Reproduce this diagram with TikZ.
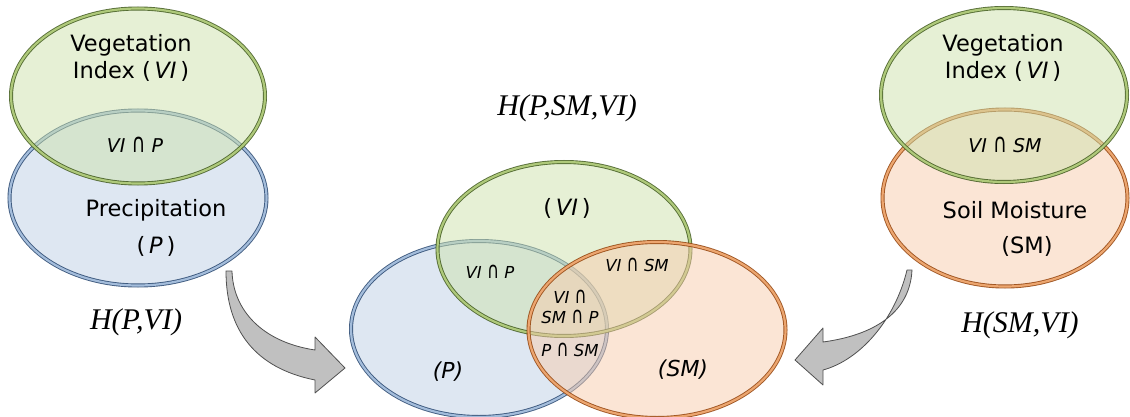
\documentclass[tikz,border=0pt]{standalone}
\usepackage{fontspec}
\usepackage{graphicx}
\setmainfont{DejaVu Sans}
\newfontfamily\hfont{Liberation Serif}
\newcommand{\ca}{\scalebox{1}[1.4]{\upshape ∩}}
\usetikzlibrary{shapes.geometric}
\definecolor{gfill}{RGB}{205,226,172}
\definecolor{gband}{RGB}{185,212,130}
\definecolor{gline}{RGB}{70,95,35}
\definecolor{bfill}{RGB}{189,207,230}
\definecolor{bband}{RGB}{175,200,230}
\definecolor{bline}{RGB}{45,75,115}
\definecolor{ofill}{RGB}{247,203,172}
\definecolor{oband}{RGB}{245,175,120}
\definecolor{oline}{RGB}{150,70,15}
\definecolor{agray}{RGB}{192,192,192}
\definecolor{aline}{RGB}{80,80,80}
\begin{document}
\begin{tikzpicture}[x=1pt,y=-1pt,
  setbase/.style={ellipse, inner sep=0pt, fill opacity=0.5, draw opacity=0.9, line width=0.9pt, double distance=2.2pt},
  gset/.style={setbase, fill=gfill, draw=gline, double=gband},
  bset/.style={setbase, fill=bfill, draw=bline, double=bband},
  oset/.style={setbase, fill=ofill, draw=oline, double=oband},
  lab/.style={font=\fontsize{22.5}{27}\selectfont, align=center, inner sep=0pt},
  ilab/.style={font=\itshape\fontsize{19}{20}\selectfont, align=center, inner sep=0pt},
  slab/.style={font=\itshape\fontsize{16.5}{20}\selectfont, align=center, inner sep=0pt},
  hlab/.style={font=\hfont\itshape\fontsize{30}{32}\selectfont, inner sep=0pt},
  bigarrow/.style={fill=agray, draw=aline, line width=0.8pt, line join=round}]
\useasboundingbox (0,0) rectangle (1130,417);
% left pair
\node[bset, minimum width=257, minimum height=175] (lp) at (138,198) {};
\node[gset, minimum width=254, minimum height=175] (lvi) at (138,96) {};
% right pair
\node[oset, minimum width=245, minimum height=177] (rsm) at (1005,198) {};
\node[gset, minimum width=246, minimum height=174] (rvi) at (1004,95) {};
% middle triple
\node[bset, minimum width=256, minimum height=176] (mp) at (479,329) {};
\node[gset, minimum width=253, minimum height=174] (mvi) at (564,249) {};
\node[oset, minimum width=257, minimum height=176] (msm) at (657,330) {};
% left texts
\node[lab] (t1) at (131,58) {Vegetation\\Index (\,\textit{VI}\,)};
\node[ilab] (t2) at (135,145) {VI \ca{} P};
\node[lab] (t3) at (156,210) {Precipitation};
\node[lab] (t4) at (156,246) {(\,\textit{P}\,)};
\node[hlab] (h1) at (136,322) {H(P,VI)};
% right texts
\node[lab] (t5) at (1003,58) {Vegetation\\Index (\,\textit{VI}\,)};
\node[ilab] (t6) at (1005,145) {VI \ca{} SM};
\node[lab] (t7) at (1015,210) {Soil Moisture};
\node[lab] (t8) at (1027,246) {(SM)};
\node[hlab] (h2) at (1020,325) {H(SM,VI)};
% middle texts
\node[hlab] (h3) at (567,108) {H(P,SM,VI)};
\node[lab] (m1) at (567,208) {(\,\textit{VI}\,)};
\node[slab] (m2) at (490,272) {VI \ca{} P};
\node[slab] (m3) at (637,265) {VI \ca{} SM};
\node[slab] (m4) at (570,307) {VI \ca\\SM \ca{} P};
\node[slab] (m5) at (570,350) {P \ca{} SM};
\node[lab, font=\itshape\fontsize{22}{24}\selectfont] (m6) at (448,372) {(P)};
\node[lab, font=\itshape\fontsize{22}{24}\selectfont] (m7) at (683,370) {(SM)};
% arrows
\draw[bigarrow] (232,271) .. controls (233,310) and (262,342) .. (315,350)
  -- (315,337) -- (345,368) -- (315,393) -- (315,380)
  .. controls (255,368) and (226,330) .. (226,271) -- cycle;
\draw[bigarrow] (912,270) .. controls (910,312) and (875,335) .. (823,342)
  -- (823,328) -- (795,360) -- (823,385) -- (823,370)
  .. controls (860,360) and (895,320) .. (907,270) -- cycle;
\end{tikzpicture}
\end{document}
